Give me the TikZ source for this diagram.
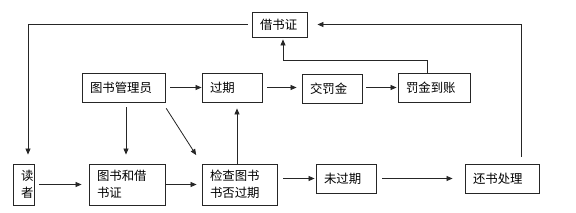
\documentclass[tikz,border=0pt]{standalone}
\usepackage{fontspec}
\newfontfamily\cjk{Noto Sans CJK SC}
\usetikzlibrary{arrows.meta}

\begin{document}
\begin{tikzpicture}[x=1pt, y=-1pt,
  >={Triangle[length=6pt, width=5pt]},
  blk/.style={draw=black!85, line width=0.9pt, inner xsep=8pt, inner ysep=0pt,
    align=left, font=\cjk\fontsize{12.4}{16.5}\selectfont},
  flow/.style={->, line width=0.8pt, draw=black!85}]

% Canvas
\useasboundingbox[fill=white] (0,0) rectangle (576,213);

% ================================================================
% Boxes
% ================================================================
% top
\node[blk, text width=39pt, minimum height=25pt] (jsz) at (279.5,24.5) {借书证};

% middle row
\node[blk, text width=67pt, minimum height=29pt] (gly) at (123.5,87.5) {图书管理员};
\node[blk, text width=44pt, minimum height=29pt] (gq) at (232,87.5) {过期};
\node[blk, text width=44pt, minimum height=29pt] (jfj) at (332,88.5) {交罚金};
\node[blk, text width=56pt, minimum height=29pt] (fjdz) at (434,87.5) {罚金到账};

% bottom row
\node[blk, text width=5pt, minimum height=41pt] (dz) at (23.5,184.5) {读\\者};
\node[blk, text width=60pt, minimum height=41pt] (tsjsz) at (127,184.5) {图书和借\\书证};
\node[blk, text width=59pt, minimum height=41pt] (jc) at (239.5,184.5) {检查图书\\书否过期};
\node[blk, text width=44pt, minimum height=29pt] (wgq) at (346,178.5) {未过期};
\node[blk, text width=58pt, minimum height=29pt] (hscl) at (502,178.5) {还书处理};

% ================================================================
% Main flow
% ================================================================
\draw[flow, shorten <=5pt, shorten >=7pt] (dz.east) -- (tsjsz.west);
\draw[flow, shorten <=1pt, shorten >=5pt] (tsjsz.east) -- (jc.west);
\draw[flow, shorten <=6pt, shorten >=1pt] (jc.east |- wgq) -- (wgq.west);
\draw[flow, shorten <=6pt, shorten >=12pt] (wgq.east) -- (hscl.west);

% librarian
\draw[flow, shorten <=5pt] (gly.east) -- (gq.west);
\draw[flow, shorten <=5pt, shorten >=9pt] ([xshift=2.5pt]gly.south) -- ([xshift=2.5pt]gly.south |- tsjsz.north);
\draw[flow, shorten <=7pt, shorten >=10pt] ([xshift=-3pt]gly.south east) -- (jc.north west);

% overdue branch
\draw[flow, shorten >=6pt] ([xshift=-2.5pt]jc.north) -- ([xshift=-2.5pt]jc.north |- gq.south);
\draw[flow, shorten <=5pt, shorten >=5pt] (gq.east) -- (gq.east -| jfj.west);
\draw[flow, shorten <=4pt, shorten >=1pt] (jfj.east |- fjdz) -- (fjdz.west);

% ================================================================
% Loops through the card
% ================================================================
\draw[flow, shorten >=2pt] ([xshift=-7pt]fjdz.north) -- ++(0,-12) -| ([xshift=3.5pt]jsz.south);
\draw[flow, shorten <=7pt, shorten >=10pt] ([xshift=19pt]hscl.north) |- (jsz.east);
\draw[flow, shorten <=4pt, shorten >=9pt] (jsz.west) -| ([xshift=4.5pt]dz.north);

\end{tikzpicture}
\end{document}
